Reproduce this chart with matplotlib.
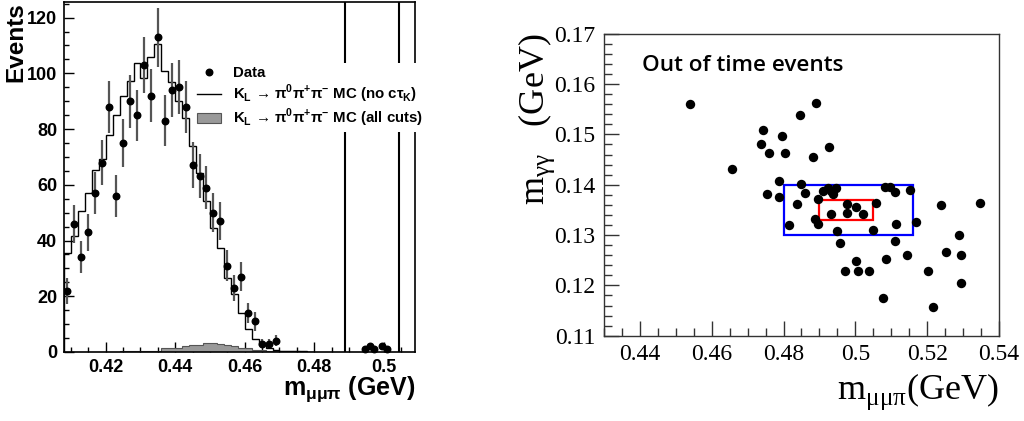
import numpy as np
import matplotlib
matplotlib.use("Agg")
import matplotlib.pyplot as plt
from matplotlib.ticker import MultipleLocator
from matplotlib.patches import Rectangle
from matplotlib.lines import Line2D

# ---- left panel: m(mu mu pi) distribution ----
data_x = [0.409, 0.411, 0.413, 0.415, 0.417, 0.419, 0.421, 0.423, 0.425, 0.427,
          0.429, 0.431, 0.433, 0.435, 0.437, 0.439, 0.441, 0.443, 0.445, 0.447,
          0.449, 0.451, 0.453, 0.455, 0.457, 0.459, 0.461, 0.463, 0.465, 0.467, 0.469]
data_y = [22, 46, 34, 43, 57, 68, 88, 56, 75, 90, 85, 103, 92, 113, 83, 94, 95, 88,
          67, 63, 59, 50, 47, 31, 23, 27, 14, 11, 3, 3, 4]
data_err = [4.7, 6.8, 5.8, 6.6, 7.5, 8.2, 9.4, 7.5, 8.7, 9.5, 9.2, 10.1, 9.6, 10.6,
            9.1, 9.7, 9.7, 9.4, 8.2, 7.9, 7.7, 7.1, 6.9, 5.6, 4.8, 5.2, 3.7, 3.3,
            1.7, 1.7, 2.0]
# few events in the signal window
sig_x = [0.4947, 0.4960, 0.4972, 0.4995, 0.5010]
sig_y = [1, 2, 1, 2, 1]

# MC histograms, bins of 0.002 starting at 0.408
mc_edges = np.round(np.arange(0.408, 0.4801, 0.002), 3)
mc_notau = [35.4, 41.6, 50.7, 57.2, 65.4, 69.4, 78.0, 85.1, 92.0, 97.1, 103.6, 98.2,
            105.7, 110.5, 101.0, 96.8, 90.2, 83.9, 73.8, 64.2, 54.1, 44.6, 37.4,
            26.7, 20.7, 13.9, 8.2, 4.8, 2.4, 1.4, 0.8, 0.5, 0.3, 0.2, 0.2, 0.1]
mc_allcuts = [0, 0, 0, 0, 0, 0, 0, 0, 0.2, 0.2, 0.3, 0.5, 0.5, 0.5, 1.6, 1.6, 1.6,
              2.1, 2.6, 2.6, 3.1, 3.2, 2.8, 2.5, 2.3, 1.5, 1.4, 0.8, 0.7, 0.4, 0.4,
              0.3, 0.2, 0.2, 0.1, 0.1]
cut_lines = [0.489, 0.5043]

# ---- right panel: out of time events ----
ev_mmmp = [0.4539, 0.4657, 0.4743, 0.4738, 0.4759, 0.4796, 0.4804, 0.4847, 0.4891,
           0.4883, 0.4926, 0.4786, 0.4753, 0.4787, 0.4849, 0.4859, 0.4838, 0.4816,
           0.4895, 0.4887, 0.4895, 0.4909, 0.4923, 0.4931, 0.4946, 0.4937, 0.4933,
           0.4948, 0.4956, 0.4978, 0.4976, 0.5002, 0.5021, 0.5058, 0.5049, 0.5001,
           0.4972, 0.5008, 0.5039, 0.5078, 0.5085, 0.5082, 0.5096, 0.5111, 0.5113,
           0.5109, 0.5152, 0.5170, 0.5144, 0.5203, 0.5239, 0.5252, 0.5217, 0.5289,
           0.5294, 0.5294, 0.5347]
ev_mgg = [0.1560, 0.1431, 0.1509, 0.1481, 0.1462, 0.1497, 0.1462, 0.1538, 0.1562,
          0.1456, 0.1474, 0.1407, 0.1381, 0.1375, 0.1401, 0.1384, 0.1361, 0.1319,
          0.1372, 0.1332, 0.1322, 0.1388, 0.1393, 0.1387, 0.1394, 0.1381, 0.1341,
          0.1308, 0.1285, 0.1361, 0.1343, 0.1355, 0.1342, 0.1363, 0.1310, 0.1249,
          0.1229, 0.1229, 0.1229, 0.1175, 0.1252, 0.1395, 0.1395, 0.1385, 0.1322,
          0.1288, 0.1389, 0.1326, 0.1260, 0.1229, 0.1359, 0.1266, 0.1158, 0.1300,
          0.1260, 0.1204, 0.1364]
blue_box = (0.480, 0.516, 0.130, 0.140)
red_box = (0.490, 0.505, 0.133, 0.137)

sans = "Liberation Sans"
serif = "Liberation Serif"

decay = "K$_\\mathregular{L}$ \u2192 \u03c0$^\\mathregular{0}$\u03c0$^\\mathregular{+}$\u03c0$^\\mathregular{\u2212}$"

fig = plt.figure(figsize=(10.24, 4.21), dpi=100)

# ------------------------------------------------------------------ left
ax1 = fig.add_axes([64 / 1024, 1 - 352 / 421, 351 / 1024, 350 / 421])

h_cut = ax1.stairs(mc_allcuts, mc_edges, fill=True, facecolor="#999999",
                   edgecolor="#555555", linewidth=0.8, zorder=2)
h_mc = ax1.stairs(mc_notau, mc_edges, color="black", linewidth=1.0, zorder=3)
ax1.errorbar(data_x, data_y, yerr=data_err, fmt="o", color="black", ecolor="#555555",
             elinewidth=1.6, markersize=4.7, capsize=0, zorder=4)
ax1.plot(sig_x, sig_y, "o", color="black", markersize=4.7, zorder=4, clip_on=False)
for xc in cut_lines:
    ax1.axvline(xc, color="black", linewidth=1.5, zorder=1)

ax1.set_xlim(0.408, 0.509)
ax1.set_ylim(0, 125.6)
ax1.xaxis.set_major_locator(MultipleLocator(0.02))
ax1.xaxis.set_minor_locator(MultipleLocator(0.005))
ax1.yaxis.set_major_locator(MultipleLocator(20))
ax1.yaxis.set_minor_locator(MultipleLocator(5))
ax1.set_xticks([0.42, 0.44, 0.46, 0.48, 0.5])
ax1.set_xticklabels(["0.42", "0.44", "0.46", "0.48", "0.5"])
ax1.tick_params(which="both", direction="in", top=False, right=False,
                labelsize=13, width=1)
ax1.tick_params(which="major", length=7, pad=5)
ax1.tick_params(which="minor", length=3.5)
for lab in ax1.get_xticklabels() + ax1.get_yticklabels():
    lab.set_fontfamily(sans)
    lab.set_fontweight("bold")
for sp in ax1.spines.values():
    sp.set_linewidth(1.2)

ax1.set_ylabel("Events", fontsize=17.5, fontweight="bold", family=sans, loc="top")
ax1.yaxis.set_label_coords(-0.105, 1.0)
ax1.set_xlabel("m$_\\mathregular{\u03bc\u03bc\u03c0}$ (GeV)", fontsize=18,
               fontweight="bold", family=sans, loc="right")
ax1.xaxis.set_label_coords(1.0, -0.065)

h_data = Line2D([], [], marker="o", linestyle="none", color="black", markersize=4.7)
h_line = Line2D([], [], color="black", linewidth=1.0)
leg = ax1.legend([h_data, h_line, h_cut],
                 ["Data", decay + " MC (no c\u03c4$_\\mathregular{K}$)",
                  decay + " MC (all cuts)"],
                 loc="upper left", bbox_to_anchor=(0.37, 0.825),
                 prop={"family": sans, "weight": "bold", "size": 10.8},
                 frameon=True, facecolor="white", edgecolor="none", framealpha=1,
                 fancybox=False, handlelength=1.6, handletextpad=0.8,
                 labelspacing=0.15, borderpad=0.2, borderaxespad=0)
leg.set_zorder(6)

# ------------------------------------------------------------------ right
ax2 = fig.add_axes([604 / 1024, 1 - 335.7 / 421, 395 / 1024, 302 / 421])
ax2.scatter(ev_mmmp, ev_mgg, s=46, color="black", zorder=3, linewidths=0)
bx0, bx1, by0, by1 = blue_box
ax2.add_patch(Rectangle((bx0, by0), bx1 - bx0, by1 - by0, fill=False,
                        edgecolor="#0000ff", linewidth=1.6, zorder=2))
rx0, rx1, ry0, ry1 = red_box
ax2.add_patch(Rectangle((rx0, ry0), rx1 - rx0, ry1 - ry0, fill=False,
                        edgecolor="#ff0000", linewidth=1.6, zorder=2))

ax2.set_xlim(0.43, 0.54)
ax2.set_ylim(0.11, 0.17)
ax2.xaxis.set_major_locator(MultipleLocator(0.02))
ax2.xaxis.set_minor_locator(MultipleLocator(0.005))
ax2.yaxis.set_major_locator(MultipleLocator(0.01))
ax2.yaxis.set_minor_locator(MultipleLocator(0.002))
ax2.set_xticks([0.44, 0.46, 0.48, 0.5, 0.52, 0.54])
ax2.set_xticklabels(["0.44", "0.46", "0.48", "0.5", "0.52", "0.54"])
ax2.set_yticks([0.11, 0.12, 0.13, 0.14, 0.15, 0.16, 0.17])
ax2.set_yticklabels(["0.11", "0.12", "0.13", "0.14", "0.15", "0.16", "0.17"])
ax2.tick_params(which="both", direction="in", top=False, right=False,
                labelsize=17, width=1, color="#333333")
ax2.tick_params(which="major", length=10.5, pad=6)
ax2.tick_params(which="minor", length=5.5)
for lab in ax2.get_xticklabels() + ax2.get_yticklabels():
    lab.set_fontfamily(serif)
for sp in ax2.spines.values():
    sp.set_linewidth(1.0)
    sp.set_color("#333333")

ax2.text(0.095, 0.896, "Out of time events", transform=ax2.transAxes,
         fontsize=16.2, family="Open Sans", fontweight=600, ha="left", va="center")

ax2.set_ylabel("m$_\\mathregular{\u03b3\u03b3}$   (GeV)", fontsize=26, family=serif,
               loc="top")
ax2.yaxis.set_label_coords(-0.118, 1.0)
ax2.set_xlabel("m$_\\mathregular{\u03bc\u03bc\u03c0}$(GeV)", fontsize=26, family=serif,
               loc="right")
ax2.xaxis.set_label_coords(1.0, -0.12)

fig.savefig("out.png", dpi=100)
